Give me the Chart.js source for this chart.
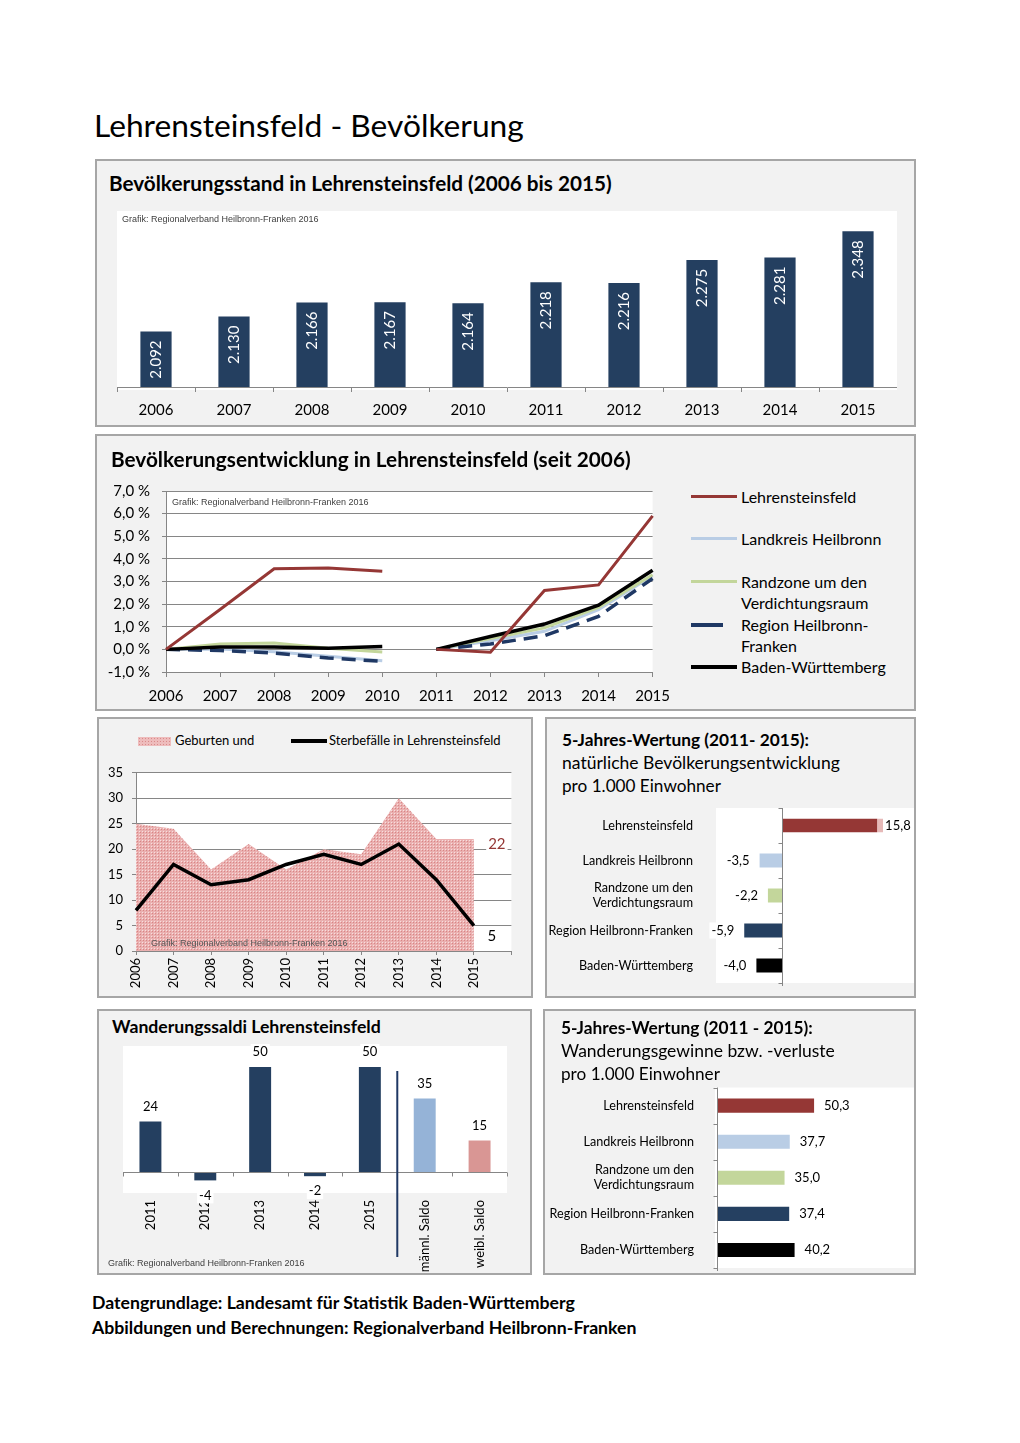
<!DOCTYPE html>
<html>
<head>
<meta charset="utf-8">
<script src="https://cdn.jsdelivr.net/npm/chart.js@4.4.0/dist/chart.umd.min.js"></script>
<style>
body{margin:0;background:#fff;font-family:Lato,sans-serif;color:#000}
#page{position:relative;width:1020px;height:1443px;overflow:hidden}
.p{position:absolute;box-sizing:border-box;background:#f2f2f2;border:2px solid #a6a6a6}
.t{position:absolute;white-space:nowrap;line-height:1;z-index:2}
.b{font-weight:bold}
canvas{position:absolute}
.wm{position:absolute;font-family:'Liberation Sans',Arial,sans-serif;font-size:9px;color:#404040;white-space:nowrap;line-height:1;z-index:2}
.lg{position:absolute}
</style>
</head>
<body>
<div id="page">
  <div class="t" data-w="430" data-cy="127" style="left:94px;font-size:28px">Lehrensteinsfeld - Bevölkerung</div>

  <div class="p" style="left:95px;top:159px;width:821px;height:268px"></div>
  <div class="p" style="left:95px;top:434px;width:821px;height:277px"></div>
  <div class="p" style="left:97px;top:717px;width:436px;height:281px"></div>
  <div class="p" style="left:545px;top:717px;width:371px;height:281px"></div>
  <div class="p" style="left:97px;top:1009px;width:435px;height:266px"></div>
  <div class="p" style="left:543px;top:1009px;width:373px;height:266px"></div>

  <div class="t b" data-w="503" data-cy="184" style="left:109px;font-size:18px">Bevölkerungsstand in Lehrensteinsfeld (2006 bis 2015)</div>
  <div class="t b" data-w="520" data-cy="460" style="left:111px;font-size:18px">Bevölkerungsentwicklung in Lehrensteinsfeld (seit 2006)</div>

  <div class="t b" data-w="247" data-cy="740" style="left:562px;font-size:16px">5-Jahres-Wertung (2011- 2015):</div>
  <div class="t" data-w="278" data-cy="763" style="left:562px;font-size:16px">natürliche Bevölkerungsentwicklung</div>
  <div class="t" data-w="159" data-cy="786" style="left:562px;font-size:16px">pro 1.000 Einwohner</div>

  <div class="t b" data-w="269" data-cy="1027" style="left:112px;font-size:16px">Wanderungssaldi Lehrensteinsfeld</div>

  <div class="t b" data-w="252" data-cy="1028" style="left:561px;font-size:16px">5-Jahres-Wertung (2011 - 2015):</div>
  <div class="t" data-w="274" data-cy="1051" style="left:561px;font-size:16px">Wanderungsgewinne bzw. -verluste</div>
  <div class="t" data-w="159" data-cy="1074" style="left:561px;font-size:16px">pro 1.000 Einwohner</div>

  <div class="t b" data-w="483" data-cy="1303" style="left:92px;font-size:16px">Datengrundlage: Landesamt für Statistik Baden-Württemberg</div>
  <div class="t b" data-w="545" data-cy="1328" style="left:92px;font-size:16px">Abbildungen und Berechnungen: Regionalverband Heilbronn-Franken</div>

  <!-- legend line chart -->
  <div class="lg" style="left:691px;top:495px;width:46px;height:3px;background:#953735"></div>
  <div class="lg" style="left:691px;top:537px;width:46px;height:3px;background:#b9cde5"></div>
  <div class="lg" style="left:691px;top:580px;width:46px;height:3px;background:#c3d69b"></div>
  <div class="lg" style="left:691px;top:623px;width:32px;height:4px;background:#1f3864"></div>
  <div class="lg" style="left:691px;top:665px;width:46px;height:3.5px;background:#000"></div>
  <div class="t" style="left:741px;top:489px;font-size:16px">Lehrensteinsfeld</div>
  <div class="t" style="left:741px;top:531px;font-size:16px">Landkreis Heilbronn</div>
  <div class="t" style="left:741px;top:574px;font-size:16px">Randzone um den</div>
  <div class="t" style="left:741px;top:595px;font-size:16px">Verdichtungsraum</div>
  <div class="t" style="left:741px;top:617px;font-size:16px">Region Heilbronn-</div>
  <div class="t" style="left:741px;top:638px;font-size:16px">Franken</div>
  <div class="t" style="left:741px;top:659px;font-size:16px">Baden-Württemberg</div>

  <!-- legend births / deaths -->
  <div class="lg" style="left:138px;top:737px;width:33px;height:9px;background-color:#eebcbc;background-image:radial-gradient(#d98a8a 0.7px,transparent 0.9px);background-size:3px 3px"></div>
  <div class="t" style="left:175px;top:734px;font-size:13px">Geburten und</div>
  <div class="lg" style="left:291px;top:739px;width:36px;height:3.5px;background:#000"></div>
  <div class="t" style="left:329px;top:734px;font-size:13px">Sterbefälle in Lehrensteinsfeld</div>

  <canvas id="c1" width="780" height="216" style="left:117px;top:205px"></canvas>
  <canvas id="c2" width="580" height="235" style="left:100px;top:470px"></canvas>
  <canvas id="c3" width="430" height="239" style="left:100px;top:756px"></canvas>
  <canvas id="c4" width="370" height="195" style="left:545px;top:800px"></canvas>
  <canvas id="c5" width="430" height="235" style="left:100px;top:1040px"></canvas>
  <canvas id="c6" width="370" height="196" style="left:545px;top:1080px"></canvas>

  <div class="wm" style="left:122px;top:215px">Grafik: Regionalverband Heilbronn-Franken 2016</div>
  <div class="wm" style="left:172px;top:498px">Grafik: Regionalverband Heilbronn-Franken 2016</div>
  <div class="wm" style="left:151px;top:939px;color:#555">Grafik: Regionalverband Heilbronn-Franken 2016</div>
  <div class="wm" style="left:108px;top:1259px">Grafik: Regionalverband Heilbronn-Franken 2016</div>
</div>

<script>
// data
const years = ['2006', '2007', '2008', '2009', '2010', '2011', '2012', '2013', '2014', '2015'];
const stand = [2092, 2130, 2166, 2167, 2164, 2218, 2216, 2275, 2281, 2348];

// Bevölkerungsentwicklung in % (Basis 2006 bzw. 2011)
const entwLehr = [0, 1.76, 3.56, 3.6, 3.45, 0, -0.13, 2.6, 2.85, 5.9];
const entwLkr = [0, 0.02, -0.1, -0.3, -0.5, 0, 0.38, 0.8, 1.75, 3.25];
const entwRand = [0, 0.24, 0.28, 0.05, -0.12, 0, 0.48, 0.95, 1.85, 3.3];
const entwRegion = [0, -0.05, -0.16, -0.38, -0.53, 0, 0.24, 0.6, 1.46, 3.13];
const entwBW = [0, 0.1, 0.1, 0.05, 0.13, 0, 0.57, 1.12, 1.95, 3.5];

const geburten = [25, 24, 16, 21, 16, 20, 19, 30, 22, 22];
const sterbefaelle = [8, 17, 13, 14, 17, 19, 17, 21, 14, 5];

const regionen = ['Lehrensteinsfeld', 'Landkreis Heilbronn', ['Randzone um den', 'Verdichtungsraum'], 'Region Heilbronn-Franken', 'Baden-Württemberg'];
const natSaldo = [15.8, -3.5, -2.2, -5.9, -4.0];
const wandSaldo5J = [50.3, 37.7, 35.0, 37.4, 40.2];

const saldoLabels = ['2011', '2012', '2013', '2014', '2015', 'männl. Saldo', 'weibl. Saldo'];
const saldoWerte = [24, -4, 50, -2, 50, 35, 15];

const regionColors = ['#953735', '#b9cde5', '#c3d69b', '#254061', '#000000'];
const saldoColors = ['#243f60', '#243f60', '#243f60', '#243f60', '#243f60', '#95b3d7', '#d99694'];
const GRID = '#868686';

// Überschriften auf Zielbreite bringen
document.querySelectorAll('[data-w]').forEach(el => {
  const w = el.getBoundingClientRect().width;
  const fs = parseFloat(getComputedStyle(el).fontSize) * (+el.dataset.w) / w;
  el.style.fontSize = fs + 'px';
  el.style.top = (+el.dataset.cy - fs * 0.527) + 'px';
});

Chart.defaults.font.family = 'Lato';
Chart.defaults.color = '#000';
Chart.defaults.animation = false;
Chart.defaults.responsive = false;
Chart.defaults.maintainAspectRatio = false;
Chart.defaults.plugins.legend.display = false;
Chart.defaults.plugins.tooltip.enabled = false;

function thousands(v) { return String(v).replace(/\B(?=(\d{3})+(?!\d))/g, '.'); }
function komma(v) { return v.toFixed(1).replace('.', ','); }

function whiteArea(l, t, r, b) {
  return {
    id: 'whiteArea',
    beforeDraw(chart) {
      const a = chart.chartArea, c = chart.ctx;
      c.save();
      c.fillStyle = '#fff';
      c.fillRect(a.left - l, a.top - t, a.right - a.left + l + r, a.bottom - a.top + t + b);
      c.restore();
    }
  };
}

function drawAfter(id, fn) {
  return { id: id, afterDatasetsDraw(chart) { chart.ctx.save(); fn(chart, chart.ctx); chart.ctx.restore(); } };
}

function textBox(c, txt, x, y, align) {
  const w = c.measureText(txt).width;
  const x0 = align === 'right' ? x - w : (align === 'center' ? x - w / 2 : x);
  const f = c.fillStyle;
  c.fillStyle = '#fff';
  c.fillRect(x0 - 2, y - 8, w + 4, 16);
  c.fillStyle = f;
  c.textAlign = align;
  c.textBaseline = 'middle';
  c.fillText(txt, x, y);
}

// vertical zero axis with small ticks (horizontal bar charts)
function zeroAxisV(chart, c) {
  const a = chart.chartArea;
  const x = Math.round(chart.scales.x.getPixelForValue(0)) + 0.5;
  const n = chart.data.labels.length;
  c.strokeStyle = GRID;
  c.lineWidth = 1;
  c.beginPath();
  c.moveTo(x, a.top);
  c.lineTo(x, a.bottom + 3);
  for (let i = 0; i <= n; i++) {
    const y = Math.round(a.top + i * (a.bottom - a.top) / n) + 0.5;
    c.moveTo(x - 4, y);
    c.lineTo(x, y);
  }
  c.stroke();
}

// 1: Bevölkerungsstand
new Chart(document.getElementById('c1'), {
  type: 'bar',
  data: { labels: years, datasets: [{ data: stand, backgroundColor: '#243f60', barPercentage: 0.4, categoryPercentage: 1 }] },
  options: {
    layout: { padding: { top: 6 } },
    scales: {
      x: {
        grid: { drawOnChartArea: false, color: GRID, tickLength: 5, offset: true },
        border: { color: GRID },
        ticks: { font: { size: 15 }, padding: 9 },
        afterFit: s => { s.height = 34; }
      },
      y: { display: false, min: 1950, max: 2400 }
    }
  },
  plugins: [whiteArea(0, 0, 0, 3), drawAfter('lbl1', (chart, c) => {
    c.fillStyle = '#fff';
    c.font = '15px Lato';
    c.textAlign = 'right';
    c.textBaseline = 'middle';
    chart.getDatasetMeta(0).data.forEach((b, i) => {
      c.save();
      c.translate(b.x, b.y + 9);
      c.rotate(-Math.PI / 2);
      c.fillText(thousands(stand[i]), 0, 0);
      c.restore();
    });
  })]
});

// 2: Bevölkerungsentwicklung
function gap(color) { return ctx => ctx.p0DataIndex === 4 ? 'rgba(0,0,0,0)' : color; }
function lineSet(data, color, width, order, dash) {
  return {
    data: data, borderColor: color, borderWidth: width, pointRadius: 0, order: order,
    borderDash: dash || [], segment: { borderColor: gap(color) }
  };
}
new Chart(document.getElementById('c2'), {
  type: 'line',
  data: {
    labels: years,
    datasets: [
      lineSet(entwLehr, '#953735', 3, 0),
      lineSet(entwLkr, '#b9cde5', 3, 4),
      lineSet(entwRand, '#c3d69b', 3, 3),
      lineSet(entwRegion, '#1f3864', 3.5, 2, [14, 8]),
      lineSet(entwBW, '#000000', 3.5, 1)
    ]
  },
  options: {
    layout: { padding: { top: 0, right: 27 } },
    scales: {
      x: {
        offset: false,
        grid: { drawOnChartArea: false, color: GRID, tickLength: 5 },
        border: { color: GRID },
        ticks: { font: { size: 15 }, padding: 10, autoSkip: false, maxRotation: 0 },
        afterFit: s => { s.height = 33; }
      },
      y: {
        min: -1, max: 7,
        grid: { color: GRID, tickLength: 4 },
        border: { color: GRID },
        ticks: { stepSize: 1, font: { size: 15 }, padding: 12, callback: v => komma(v) + ' %' },
        afterFit: s => { s.width = 66; }
      }
    }
  },
  plugins: [whiteArea(0, 0, 0, 0)]
});

// 3: Geburten und Sterbefälle
const pc = document.createElement('canvas');
pc.width = 3; pc.height = 3;
const pctx = pc.getContext('2d');
pctx.fillStyle = '#eab0b0';
pctx.fillRect(0, 0, 3, 3);
pctx.fillStyle = '#f8dede';
pctx.fillRect(0, 0, 1, 1);
pctx.fillStyle = '#d98585';
pctx.fillRect(1, 1, 1, 1);
const pink = pctx.createPattern(pc, 'repeat');

new Chart(document.getElementById('c3'), {
  type: 'line',
  data: {
    labels: years.concat(['']),
    datasets: [
      { data: geburten, fill: 'origin', backgroundColor: pink, borderColor: 'rgba(0,0,0,0)', borderWidth: 0, pointRadius: 0, order: 2 },
      { data: sterbefaelle, borderColor: '#000', borderWidth: 3.5, pointRadius: 0, order: 1 }
    ]
  },
  options: {
    layout: { padding: { top: 0, right: 16 } },
    scales: {
      x: {
        offset: false,
        grid: { drawOnChartArea: false, color: GRID, tickLength: 4 },
        border: { color: GRID },
        ticks: { font: { size: 13 }, padding: 3, minRotation: 90, maxRotation: 90, autoSkip: false },
        afterFit: s => { s.height = 44; }
      },
      y: {
        min: 0, max: 35, z: 1,
        grid: { color: GRID, tickLength: 4 },
        border: { color: GRID },
        ticks: { stepSize: 5, font: { size: 13 }, padding: 9 },
        afterFit: s => { s.width = 36; }
      }
    }
  },
  plugins: [whiteArea(0, 0, 0, 0), drawAfter('lbl3', (chart, c) => {
    c.font = '15px Lato';
    const p1 = chart.getDatasetMeta(0).data[9];
    const p2 = chart.getDatasetMeta(1).data[9];
    c.fillStyle = '#953735';
    textBox(c, String(geburten[9]), p1.x + 23, p1.y + 5, 'center');
    c.fillStyle = '#000';
    textBox(c, String(sterbefaelle[9]), p2.x + 18, p2.y + 11, 'center');
  })]
});

// 4 + 6: 5-Jahres-Wertung (horizontal bars)
function hBar(id, values, min, max, barPct, padding, yWidth, yGap, labelFn) {
  return new Chart(document.getElementById(id), {
    type: 'bar',
    data: {
      labels: regionen,
      datasets: [{
        data: values, backgroundColor: regionColors, barPercentage: barPct, categoryPercentage: 1,
        borderColor: '#e6b9b8', borderSkipped: false,
        borderWidth: ctx => (id === 'c4' && ctx.dataIndex === 0) ? { right: 6 } : 0
      }]
    },
    options: {
      indexAxis: 'y',
      layout: { padding: padding },
      scales: {
        x: { display: false, min: min, max: max },
        y: {
          grid: { display: false, drawTicks: true, tickLength: yGap }, border: { display: false },
          ticks: { font: { size: 12.6 }, padding: 0 },
          afterFit: s => { s.width = yWidth; }
        }
      }
    },
    plugins: [whiteArea(2, 0, 4, 0), drawAfter('ax' + id, zeroAxisV), drawAfter('lbl' + id, labelFn)]
  });
}

hBar('c4', natSaldo, -10, 20, 0.4, { top: 8, bottom: 12, right: 5 }, 173, 25, (chart, c) => {
  c.font = '13px Lato';
  c.fillStyle = '#000';
  chart.getDatasetMeta(0).data.forEach((b, i) => {
    const v = natSaldo[i];
    if (v >= 0) textBox(c, komma(v), b.x + 2, b.y, 'left');
    else textBox(c, komma(v), b.x - 10, b.y, 'right');
  });
});

hBar('c6', wandSaldo5J, 0, 100, 0.39, { top: 7, bottom: 8, right: 5 }, 172, 23, (chart, c) => {
  c.font = '13px Lato';
  c.fillStyle = '#000';
  chart.getDatasetMeta(0).data.forEach((b, i) => {
    textBox(c, komma(wandSaldo5J[i]), b.x + 10, b.y, 'left');
  });
});

// 5: Wanderungssaldi
new Chart(document.getElementById('c5'), {
  type: 'bar',
  data: { labels: saldoLabels, datasets: [{ data: saldoWerte, backgroundColor: saldoColors, barPercentage: 0.4, categoryPercentage: 1 }] },
  options: {
    layout: { padding: { top: 6, left: 23, right: 23 } },
    scales: {
      x: {
        grid: { display: false, drawTicks: false }, border: { display: false },
        ticks: { font: { size: 13 }, padding: 7, minRotation: 90, maxRotation: 90, autoSkip: false },
        afterFit: s => { s.height = 82; }
      },
      y: { display: false, min: -10, max: 60 }
    }
  },
  plugins: [whiteArea(0, 0, 0, 0), drawAfter('ax5', (chart, c) => {
    const a = chart.chartArea, xs = chart.scales.x;
    const y = Math.round(chart.scales.y.getPixelForValue(0)) + 0.5;
    const n = saldoLabels.length;
    c.strokeStyle = GRID;
    c.lineWidth = 1;
    c.beginPath();
    c.moveTo(a.left, y);
    c.lineTo(a.right, y);
    for (let i = 0; i <= n; i++) {
      const x = Math.round(a.left + i * (a.right - a.left) / n) + 0.5;
      c.moveTo(x, y);
      c.lineTo(x, y + 4);
    }
    c.stroke();
    // Trennlinie Jahre / Geschlecht
    const sx = (xs.getPixelForValue(4) + xs.getPixelForValue(5)) / 2;
    c.strokeStyle = '#1f3864';
    c.lineWidth = 2;
    c.beginPath();
    c.moveTo(sx, a.top + 25);
    c.lineTo(sx, a.bottom + 64);
    c.stroke();
    c.font = '13px Lato';
    c.fillStyle = '#000';
    chart.getDatasetMeta(0).data.forEach((b, i) => {
      const v = saldoWerte[i];
      if (v >= 0) textBox(c, String(v), b.x, b.y - 15, 'center');
      else textBox(c, String(v), b.x, b.y + 15, 'center');
    });
  })]
});
</script>
</body>
</html>
